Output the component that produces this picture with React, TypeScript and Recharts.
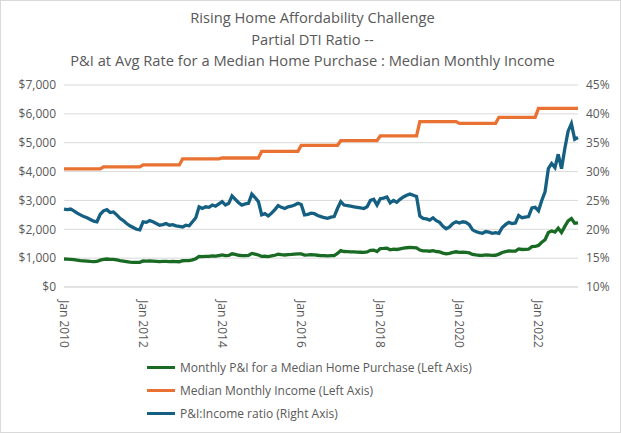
import { LineChart, Line, XAxis, YAxis, CartesianGrid } from 'recharts'

// one point per month, Jan 2010 .. Jan 2023
const incomeByYear = [4090, 4160, 4230, 4440, 4470, 4700, 4910, 5070, 5240, 5730, 5670, 5880, 6190, 6190]

// Monthly P&I for a median home purchase ($)
const pni = [
  970, 965, 960, 950, 930, 915, 905, 895, 885, 880, 885, 930,
  960, 970, 955, 960, 940, 915, 900, 880, 860, 850, 850, 855,
  900, 895, 905, 900, 890, 880, 885, 890, 880, 885, 880, 875,
  910, 915, 915, 940, 980, 1060, 1050, 1060, 1060, 1080, 1070, 1090,
  1110, 1085, 1095, 1150, 1130, 1100, 1085, 1090, 1095, 1165, 1140, 1110,
  1060, 1065, 1050, 1075, 1100, 1135, 1120, 1110, 1125, 1130, 1140, 1150,
  1145, 1105, 1110, 1120, 1115, 1100, 1090, 1085, 1080, 1085, 1090, 1160,
  1260, 1230, 1225, 1220, 1215, 1210, 1205, 1200, 1215, 1270, 1280, 1230,
  1330, 1335, 1345, 1290, 1315, 1300, 1325, 1345, 1360, 1375, 1365, 1355,
  1280, 1255, 1250, 1240, 1260, 1230, 1215, 1175, 1150, 1165, 1200, 1220,
  1200, 1210, 1200, 1180, 1130, 1110, 1100, 1095, 1110, 1105, 1095, 1100,
  1140, 1195, 1225, 1250, 1240, 1245, 1320, 1300, 1305, 1310, 1400, 1405,
  1440, 1550, 1640, 1890, 1940, 1900, 2040, 1890, 2100, 2290, 2370, 2210,
  2220,
]

// P&I : income ratio (%)
const ratio = [
  23.5, 23.4, 23.5, 23.2, 22.8, 22.5, 22.2, 22.0, 21.7, 21.4, 21.3, 22.6,
  23.2, 23.4, 22.9, 23.0, 22.5, 21.9, 21.5, 21.0, 20.6, 20.3, 20.0, 19.9,
  21.3, 21.2, 21.5, 21.3, 21.0, 20.7, 20.8, 21.0, 20.7, 20.8, 20.6, 20.5,
  20.4, 20.7, 20.6, 21.3, 22.0, 23.9, 23.6, 23.9, 23.8, 24.2, 24.0, 24.4,
  24.8, 24.2, 24.5, 25.8, 25.2, 24.6, 24.2, 24.4, 24.5, 26.1, 25.5, 24.8,
  22.5, 22.7, 22.3, 22.8, 23.4, 24.1, 23.8, 23.6, 23.9, 24.0, 24.2, 24.5,
  24.3, 22.5, 22.6, 22.8, 22.7, 22.4, 22.2, 22.0, 21.9, 22.1, 22.2, 23.6,
  24.8, 24.2, 24.1, 24.0, 23.9, 23.8, 23.7, 23.6, 23.9, 25.0, 25.2, 24.2,
  25.3, 25.4, 25.6, 24.6, 25.0, 24.7, 25.2, 25.6, 25.9, 26.1, 25.9, 25.7,
  22.3, 21.9, 21.8, 21.6, 22.0, 21.5, 21.2, 20.5, 20.1, 20.4, 21.0, 21.3,
  21.1, 21.3, 21.2, 20.8, 19.9, 19.6, 19.4, 19.3, 19.6, 19.5, 19.3, 19.4,
  19.3, 20.3, 20.8, 21.2, 21.0, 21.1, 22.4, 22.0, 22.1, 22.2, 23.7, 23.8,
  23.2, 25.0, 26.5, 30.5, 31.4, 30.7, 33.0, 30.5, 34.0, 37.0, 38.3, 35.6,
  35.9,
]

const leftTicks = [0, 1000, 2000, 3000, 4000, 5000, 6000, 7000]
const rightTicks = [10, 15, 20, 25, 30, 35, 40, 45]
const xTicks = [0, 24, 48, 72, 96, 120, 144]

const titleLines = [
  'Rising Home Affordability Challenge',
  'Partial DTI Ratio --',
  'P&I at Avg Rate for a Median Home Purchase : Median Monthly Income',
]

const legendItems = [
  { label: 'Monthly P&I for a Median Home Purchase (Left Axis)', color: '#196B24' },
  { label: 'Median Monthly Income (Left Axis)', color: '#E97132' },
  { label: 'P&I:Income ratio (Right Axis)', color: '#156082' },
]

const data = pni.map((v, m) => ({
  m,
  pni: v,
  income: incomeByYear[Math.floor(m / 12)],
  ratio: ratio[m],
}))

const FONT = '"Open Sans", sans-serif'
const TEXT = '#595959'

function MonthTick({ x, y, payload }: any) {
  const year = 2010 + payload.value / 12
  return (
    <text
      x={x}
      y={y}
      dx={5}
      dy={4}
      transform={`rotate(90 ${x} ${y})`}
      fill={TEXT}
      fontSize={12}
      fontFamily={FONT}
      textAnchor="start"
    >
      Jan {year}
    </text>
  )
}

export default function App() {
  return (
    <div style={{ position: 'absolute', left: 0, top: 0, width: 621, height: 433, background: '#fff', fontFamily: FONT }}>
      <div style={{ position: 'absolute', inset: 0, border: '1px solid #d9d9d9', boxSizing: 'border-box' }} />

      {/* title */}
      <div style={{ position: 'absolute', left: 0, top: 7, width: 625, textAlign: 'center', color: TEXT, fontSize: 14.7, lineHeight: '21.5px' }}>
        {titleLines.map((t) => (
          <div key={t}>{t}</div>
        ))}
      </div>

      <LineChart width={621} height={433} data={data} margin={{ top: 85, right: 0, bottom: 86, left: 0 }}>
        <CartesianGrid yAxisId="left" vertical={false} stroke="#d9d9d9" />
        <XAxis
          dataKey="m"
          type="number"
          domain={[0, 156]}
          ticks={xTicks}
          tick={<MonthTick />}
          tickLine={false}
          axisLine={{ stroke: '#d9d9d9' }}
          height={60}
          interval={0}
        />
        <YAxis
          yAxisId="left"
          domain={[0, 7000]}
          ticks={leftTicks}
          width={64}
          tickLine={false}
          axisLine={false}
          tick={{ fill: TEXT, fontSize: 12, fontFamily: FONT }}
          tickFormatter={(v: number) => `$${v.toLocaleString('en-US')}`}
        />
        <YAxis
          yAxisId="right"
          orientation="right"
          domain={[10, 45]}
          ticks={rightTicks}
          width={43}
          tickLine={false}
          axisLine={false}
          tick={{ fill: TEXT, fontSize: 12, fontFamily: FONT }}
          tickFormatter={(v: number) => `${v}%`}
        />
        <Line yAxisId="left" dataKey="pni" stroke="#196B24" strokeWidth={3.3} dot={false} isAnimationActive={false} />
        <Line yAxisId="left" dataKey="income" stroke="#E97132" strokeWidth={3.3} dot={false} isAnimationActive={false} />
        <Line yAxisId="right" dataKey="ratio" stroke="#156082" strokeWidth={3.3} dot={false} isAnimationActive={false} />
      </LineChart>

      {/* legend */}
      <div style={{ position: 'absolute', left: 147, top: 356, color: TEXT, fontSize: 12 }}>
        {legendItems.map((it) => (
          <div key={it.label} style={{ display: 'flex', alignItems: 'center', height: 23 }}>
            <span style={{ display: 'inline-block', width: 28, height: 3, background: it.color, marginRight: 5 }} />
            <span>{it.label}</span>
          </div>
        ))}
      </div>
    </div>
  )
}
